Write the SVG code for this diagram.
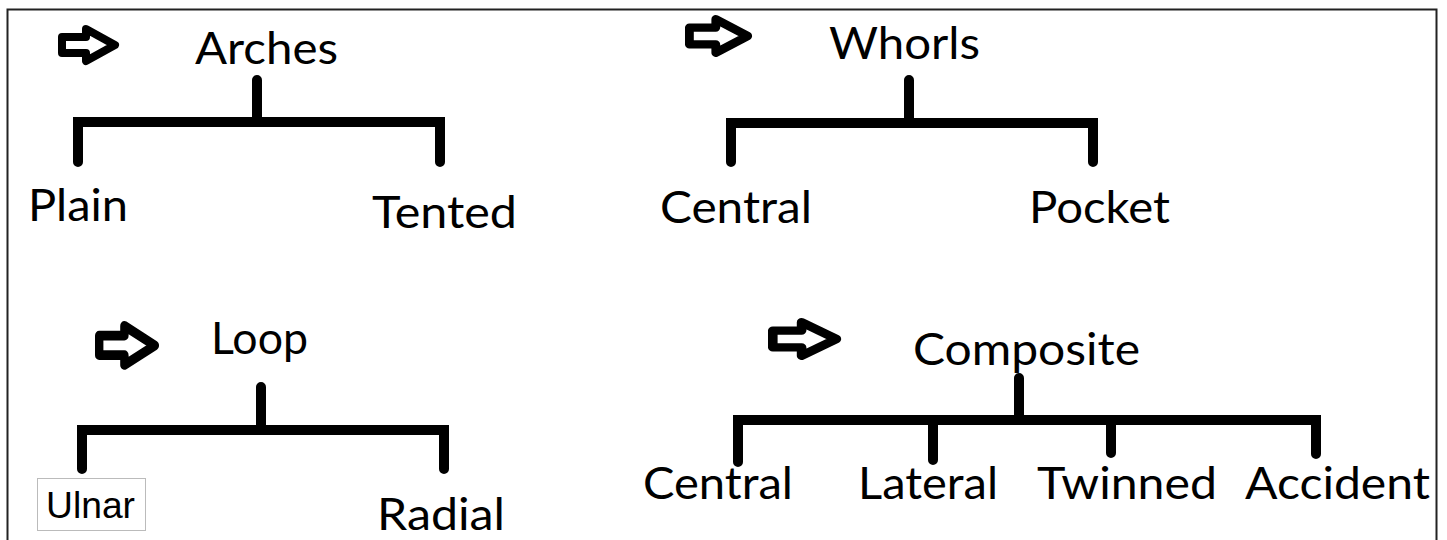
<svg xmlns="http://www.w3.org/2000/svg" width="1447" height="540" viewBox="0 0 1447 540">
<style>
.t{font-family:Lato,"Open Sans","Noto Sans",sans-serif;font-size:45px;fill:#000}
.c{stroke:#000;stroke-width:10;stroke-linecap:round;fill:none}
.ar{fill:#fff;stroke:#000;stroke-width:8;stroke-linejoin:round}
</style>
<defs>
<path id="arrow" class="ar" d="M4,12 H28 V4 L57,20 L28,36 V28 H4 Z"/>
</defs>
<rect width="1447" height="540" fill="#fff"/>
<path d="M7.5,545 V9.5 H1436.5 V545" fill="none" stroke="#222" stroke-width="2"/>
<g id="connectors">
<path class="c" d="M257,80 V122 M78,162 V122 H440 V162"/>
<path class="c" d="M909,80 V122 M731,162 V123 H1093 V162"/>
<path class="c" d="M261,387 V430 M82,469 V430 H444 V469"/>
<path class="c" d="M1019,378 V420 M738,462 V420 H1316 V454 M933,420 V460 M1111,420 V453"/>
</g>
<g id="arrows">
<use href="#arrow" transform="translate(58,25)"/>
<use href="#arrow" transform="translate(685,15) scale(1.1,1.05)"/>
<use href="#arrow" transform="translate(95,321) scale(1.05,1.22)"/>
<use href="#arrow" transform="translate(768,318) scale(1.2,1.05)"/>
</g>
<g id="arches"><text class="t" x="195" y="64" textLength="143" lengthAdjust="spacingAndGlyphs">Arches</text></g>
<g id="plain"><text class="t" x="28" y="221" textLength="100" lengthAdjust="spacingAndGlyphs">Plain</text></g>
<g id="tented"><text class="t" x="372" y="228" textLength="145" lengthAdjust="spacingAndGlyphs">Tented</text></g>
<g id="whorls"><text class="t" x="829" y="59" textLength="151" lengthAdjust="spacingAndGlyphs">Whorls</text></g>
<g id="central-w"><text class="t" x="660" y="223" textLength="152" lengthAdjust="spacingAndGlyphs">Central</text></g>
<g id="pocket"><text class="t" x="1029" y="223" textLength="141" lengthAdjust="spacingAndGlyphs">Pocket</text></g>
<g id="loop"><text class="t" x="211" y="354" textLength="97" lengthAdjust="spacingAndGlyphs">Loop</text></g>
<g id="ulnar">
<rect x="37.5" y="478.5" width="108" height="52" fill="#fff" stroke="#bbb" stroke-width="1"/>
<text x="46" y="518" font-family="'Liberation Sans',Arial,sans-serif" font-size="37" textLength="89" lengthAdjust="spacingAndGlyphs">Ulnar</text>
</g>
<g id="radial"><text class="t" x="377" y="530" font-size="44" textLength="128" lengthAdjust="spacingAndGlyphs">Radial</text></g>
<g id="composite"><text class="t" x="913" y="365" font-size="46" textLength="227" lengthAdjust="spacingAndGlyphs">Composite</text></g>
<g id="central-c"><text class="t" x="643" y="499" font-size="46" textLength="150" lengthAdjust="spacingAndGlyphs">Central</text></g>
<g id="lateral"><text class="t" x="858" y="499" font-size="46" textLength="140" lengthAdjust="spacingAndGlyphs">Lateral</text></g>
<g id="twinned"><text class="t" x="1037" y="499" font-size="46" textLength="180" lengthAdjust="spacingAndGlyphs">Twinned</text></g>
<g id="accident"><text class="t" x="1245" y="499" font-size="46" textLength="185" lengthAdjust="spacingAndGlyphs">Accident</text></g>
</svg>
